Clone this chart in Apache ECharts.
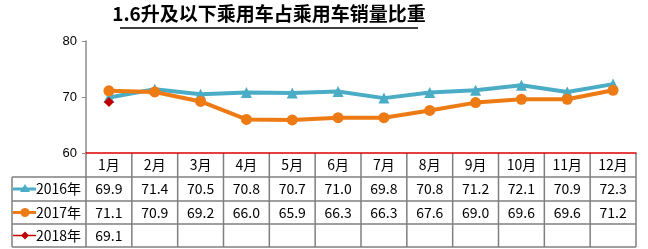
<!DOCTYPE html>
<html><head><meta charset="utf-8">
<script src="https://cdn.jsdelivr.net/npm/echarts@6/dist/echarts.min.js"></script>
<style>html,body{margin:0;padding:0;background:#fff}#c{width:648px;height:249px}</style>
</head><body><div id="c"></div>
<script>
var titleText = '1.6升及以下乘用车占乘用车销量比重';
var months = ['1月','2月','3月','4月','5月','6月','7月','8月','9月','10月','11月','12月'];
var seriesNames = ['2016年','2017年','2018年'];
var v2016 = [69.9,71.4,70.5,70.8,70.7,71.0,69.8,70.8,71.2,72.1,70.9,72.3];
var v2017 = [71.1,70.9,69.2,66.0,65.9,66.3,66.3,67.6,69.0,69.6,69.6,71.2];
var v2018 = [69.1,null,null,null,null,null,null,null,null,null,null,null];
var yTicks = [60,70,80];

var colors = ['#4BACC6','#EE7A14','#C00000'];
var symbols = ['triangle','circle','diamond'];
var allData = [v2016, v2017, v2018];
var chart = echarts.init(document.getElementById('c'));
var cjk = '"Noto Sans CJK SC"';
chart.setOption({
  animation:false,
  grid:{left:86,right:12,top:41,bottom:96},
  xAxis:{type:'category',data:months,boundaryGap:true,
    axisLine:{lineStyle:{color:'#E00000',width:1.5}},axisTick:{show:false},axisLabel:{show:false}},
  yAxis:{type:'value',min:yTicks[0],max:yTicks[yTicks.length-1],interval:10,
    axisLine:{show:true,lineStyle:{color:'#8c8c8c',width:1.5}},
    axisTick:{show:true,length:4,lineStyle:{color:'#8c8c8c'}},
    axisLabel:{color:'#000',fontSize:13,fontFamily:'Liberation Sans',margin:9},
    splitLine:{show:false}},
  series:[
    {name:seriesNames[0],type:'line',data:v2016,symbol:symbols[0],symbolSize:11,
      lineStyle:{color:colors[0],width:4},itemStyle:{color:colors[0]},z:2},
    {name:seriesNames[1],type:'line',data:v2017,symbol:symbols[1],symbolSize:11,
      lineStyle:{color:colors[1],width:4},itemStyle:{color:colors[1]},z:3},
    {name:seriesNames[2],type:'line',data:v2018,symbol:symbols[2],symbolSize:10,
      lineStyle:{color:colors[2],width:2},itemStyle:{color:colors[2]},z:4}
  ]
});

var g = [];
// title
g.push({type:'text',x:269,y:4,style:{text:titleText,font:'bold 19px '+cjk,fill:'#000',textAlign:'center'}});
g.push({type:'line',shape:{x1:120,y1:28,x2:418,y2:28},style:{stroke:'#000',lineWidth:1.5}});

var x0 = chart.convertToPixel({xAxisIndex:0},0);
var x1 = chart.convertToPixel({xAxisIndex:0},1);
var bw = x1 - x0;
var left = x0 - bw/2;
var right = left + bw*months.length;
var topY = chart.convertToPixel({yAxisIndex:0},yTicks[0]);
var rows = [topY, 177, 201, 224, 247];
var lineC = '#7f7f7f';
for (var i=0;i<=months.length;i++){
  var xx = left + bw*i;
  g.push({type:'line',shape:{x1:xx,y1:topY,x2:xx,y2:rows[4]},style:{stroke:lineC,lineWidth:1.5}});
}
for (var r=1;r<rows.length;r++){
  g.push({type:'line',shape:{x1:12,y1:rows[r],x2:right,y2:rows[r]},style:{stroke:lineC,lineWidth:1.5}});
}
g.push({type:'line',shape:{x1:12,y1:rows[1],x2:12,y2:rows[4]},style:{stroke:lineC,lineWidth:1.5}});
// header
months.forEach(function(m,i){
  var cx = chart.convertToPixel({xAxisIndex:0},i);
  g.push({type:'text',x:cx,y:(rows[0]+rows[1])/2,style:{text:m,font:'14px '+cjk,fill:'#000',textAlign:'center',textVerticalAlign:'middle'}});
});
allData.forEach(function(arr,s){
  var cy = (rows[s+1]+rows[s+2])/2;
  g.push({type:'line',shape:{x1:13,y1:cy,x2:36,y2:cy},style:{stroke:colors[s],lineWidth:s==2?1.5:3}});
  var sym = symbols[s]==='circle' ? {type:'circle',shape:{cx:25,cy:cy,r:4.5},style:{fill:colors[s]}} :
    symbols[s]==='triangle' ? {type:'polygon',shape:{points:[[25,cy-5],[30,cy+3],[20,cy+3]]},style:{fill:colors[s]}} :
    {type:'polygon',shape:{points:[[25,cy-4],[29,cy],[25,cy+4],[21,cy]]},style:{fill:colors[s]}};
  g.push(sym);
  g.push({type:'text',x:36,y:cy,style:{text:seriesNames[s],font:'14px '+cjk,fill:'#000',textVerticalAlign:'middle'}});
  arr.forEach(function(v,i){
    if(v==null) return;
    var cx = chart.convertToPixel({xAxisIndex:0},i);
    g.push({type:'text',x:cx,y:cy,style:{text:v.toFixed(1),font:'14px '+cjk,fill:'#000',textAlign:'center',textVerticalAlign:'middle'}});
  });
});
chart.setOption({graphic:g});
</script></body></html>
